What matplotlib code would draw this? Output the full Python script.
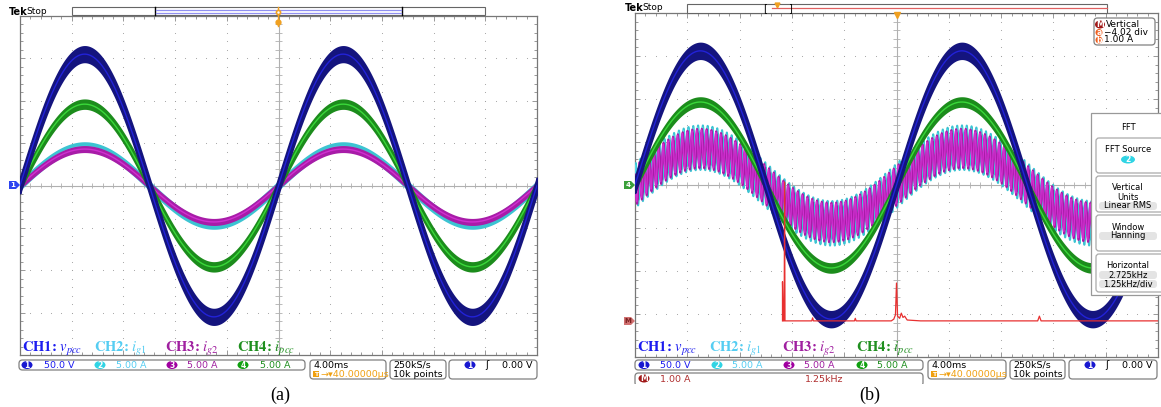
import numpy as np
import matplotlib.pyplot as plt
from matplotlib.patches import FancyBboxPatch, Ellipse, Rectangle, Polygon

plt.rcParams['mathtext.fontset'] = 'stix'
plt.rcParams['font.family'] = ['DejaVu Sans']

W, H = 1161, 407

# channels
ch_sym = ['CH1: $v_{pcc}$', 'CH2: $i_{g1}$', 'CH3: $i_{g2}$', 'CH4: $i_{pcc}$']
ch_scale = ['50.0 V', '5.00 A', '5.00 A', '5.00 A']
ch_num = ['1', '2', '3', '4']
ch_text_col = ['#1c1cf0', '#55cdf2', '#a020a0', '#1f8f1f']
ch_badge_col = ['#1818d0', '#30d4e4', '#a000a0', '#10a010']
trace_outer = ['#14147e', '#3cc4d2', '#a81ca8', '#1c8c1c']
trace_inner = ['#2222d8', '#56dbe6', '#d030d0', '#3ad83a']

period_div = 5.0          # 20 ms period at 4 ms/div
time_label = '4.00ms'
delay_label = '\u2192\u25be40.00000\u03bcs'
rate_label = ['250kS/s', '10k points']

# panel (a): peak amplitude and trace noise half width (divisions)
amp_a = [3.10, 0.92, 0.86, 1.92]
fuzz_a = [0.18, 0.09, 0.06, 0.10]

# panel (b)
amp_b = [3.12, 0.88, 0.86, 1.93]
fuzz_b = [0.18, 0.06, 0.04, 0.10]
ripple_b = [0.0, 0.46, 0.42, 0.0]
ripple_khz = 2.725

# FFT of CH2 shown as math trace M (kHz, level in divisions)
fft_center_khz = 2.725
fft_khz_per_div = 1.25
fft_khz = [0.00, 0.00, 0.02, 0.04, 0.05, 0.06, 0.10, 0.70, 0.72, 0.74, 1.72, 1.74,
           1.76, 2.60, 2.66, 2.70, 2.725, 2.75, 2.80, 2.84, 2.88, 2.92, 2.98, 3.30,
           6.10, 6.14, 6.18, 8.96]
fft_lvl = [-3.16, -2.25, -3.16, -3.16, 0.07, -3.16, -3.16, -3.16, -3.09, -3.16, -3.16, -3.10,
           -3.16, -3.16, -3.12, -3.02, -2.28, -3.05, -3.10, -2.98, -3.08, -3.05, -3.14, -3.16,
           -3.16, -3.05, -3.16, -3.16]
fft_col = '#e83030'


def px_axes(fig, x0, y0, x1, y1):
    return fig.add_axes([x0 / W, 1 - y1 / H, (x1 - x0) / W, (y1 - y0) / H])


def graticule(ax):
    ax.set_xlim(0, 10)
    ax.set_ylim(-4, 4)
    ax.set_xticks(np.arange(0, 10.01, 1))
    ax.set_xticks(np.arange(0, 10.01, 0.2), minor=True)
    ax.set_yticks(np.arange(-4, 4.01, 1))
    ax.set_yticks(np.arange(-4, 4.01, 0.2), minor=True)
    ax.tick_params(which='both', direction='in', top=True, right=True,
                   labelbottom=False, labelleft=False, length=2.5, width=0.6, color='#888888')
    ax.tick_params(which='major', length=3.5)
    for s in ax.spines.values():
        s.set_color('#777777')
        s.set_linewidth(0.9)
    gx, gy = np.meshgrid(np.arange(1, 10), np.arange(-4, 4.01, 0.2))
    ax.scatter(gx.ravel(), gy.ravel(), s=0.6, c='#a0a0a0', lw=0, zorder=1)
    gx, gy = np.meshgrid(np.arange(0, 10.01, 0.2), np.arange(-3, 4))
    ax.scatter(gx.ravel(), gy.ravel(), s=0.6, c='#a0a0a0', lw=0, zorder=1)
    ax.axhline(0, color='#b0b0b0', lw=0.8, zorder=1)
    ax.axvline(5, color='#b0b0b0', lw=0.8, zorder=1)
    ax.vlines(np.arange(0, 10.01, 0.2), -0.07, 0.07, color='#b0b0b0', lw=0.6, zorder=1)
    ax.hlines(np.arange(-4, 4.01, 0.2), 4.93, 5.07, color='#b0b0b0', lw=0.6, zorder=1)


def draw_trace(ax, x, y, fuzz, outer, inner, z):
    ax.fill_between(x, y - fuzz, y + fuzz, color=outer, lw=1.4, edgecolor=outer, zorder=z)
    ax.plot(x, y, color=inner, lw=1.0, zorder=z + 0.1)


fig = plt.figure(figsize=(W / 100, H / 100), dpi=100)
fig.patch.set_facecolor('white')

x = np.linspace(0, 10, 6000)
base = np.sin(2 * np.pi * x / period_div)
order = [1, 2, 3, 0]

# panel (a)
axa = px_axes(fig, 20, 16, 537, 355)
graticule(axa)
for k, i in enumerate(order):
    draw_trace(axa, x, amp_a[i] * base, fuzz_a[i], trace_outer[i], trace_inner[i], 3 + k)

# panel (b)
axb = px_axes(fig, 635, 13, 1158, 357)
graticule(axb)
ripple_div = (1.0 / ripple_khz) / 4.0
for k, i in enumerate(order):
    y = amp_b[i] * base + ripple_b[i] * np.sin(2 * np.pi * x / ripple_div + 1.3 * i)
    draw_trace(axb, x, y, fuzz_b[i], trace_outer[i], trace_inner[i], 3 + k)
fx = 5 + (np.array(fft_khz) - fft_center_khz) / fft_khz_per_div
axb.plot(fx, fft_lvl, color=fft_col, lw=0.9, zorder=10)

# overlay in pixel coordinates
ov = fig.add_axes([0, 0, 1, 1], zorder=20)
ov.set_xlim(0, W)
ov.set_ylim(H, 0)
ov.axis('off')


def rbox(x0, y0, x1, y1, fc='white', ec='#808080', r=3.5, lw=0.9):
    ov.add_patch(FancyBboxPatch((x0, y0), x1 - x0, y1 - y0,
                                boxstyle=f'round,pad=0,rounding_size={r}',
                                fc=fc, ec=ec, lw=lw))


def badge(xc, yc, txt, col, w=11, h=8):
    ov.add_patch(Ellipse((xc, yc), w, h, fc=col, ec='none'))
    ov.text(xc, yc + 0.3, txt, color='white', fontsize=5.5, ha='center', va='center',
            fontweight='bold')


def header(xt, yt, bx0, bx1, by0, by1):
    ov.text(xt, yt, 'Tek', fontsize=7, fontweight='bold', va='center', ha='left')
    ov.text(xt + 17, yt, 'Stop', fontsize=6.5, va='center', ha='left')
    ov.add_patch(Rectangle((bx0, by0), bx1 - bx0, by1 - by0, fc='white', ec='#666666', lw=0.8))


def ground(xr, yc, col, txt, tcol='white'):
    ov.add_patch(Polygon([(xr - 11, yc - 4), (xr - 4, yc - 4), (xr, yc), (xr - 4, yc + 4),
                          (xr - 11, yc + 4)], closed=True, fc=col, ec='none'))
    ov.text(xr - 7, yc + 0.3, txt, fontsize=5, color=tcol, ha='center', va='center',
            fontweight='bold')


def status(x0, lab_x, badge_x, scale_x, row_x1, t_x0, t_x1, r_x0, r_x1, g_x0, g_x1):
    for i in range(4):
        ov.text(lab_x[i], 352, ch_sym[i], color=ch_text_col[i], fontsize=10.5,
                family='STIXGeneral', fontweight='bold', va='baseline')
    rbox(x0, 360, row_x1, 370)
    for i in range(4):
        badge(badge_x[i], 365, ch_num[i], ch_badge_col[i])
        ov.text(scale_x[i], 365.5, ch_scale[i], color=ch_text_col[i], fontsize=6.8,
                va='center', ha='left')
    rbox(t_x0, 360, t_x1, 379)
    ov.text(t_x0 + 3, 365, time_label, fontsize=6.8, va='center')
    ov.add_patch(Rectangle((t_x0 + 3, 371), 6, 6, fc='#f0a010', ec='none'))
    ov.text(t_x0 + 6, 374.2, 'T', fontsize=4.5, color='white', ha='center', va='center',
            fontweight='bold')
    ov.text(t_x0 + 10, 374.5, delay_label, fontsize=6.8, color='#f0a010', va='center')
    rbox(r_x0, 360, r_x1, 379)
    ov.text(r_x0 + 3, 365, rate_label[0], fontsize=6.8, va='center')
    ov.text(r_x0 + 3, 374.5, rate_label[1], fontsize=6.8, va='center')
    rbox(g_x0, 360, g_x1, 379)
    badge(g_x0 + 21, 365, '1', ch_badge_col[0])
    ov.text(g_x0 + 38, 365.5, '\u0283', fontsize=7, va='center', ha='center')
    ov.text(g_x1 - 4, 365.5, '0.00 V', fontsize=6.8, va='center', ha='right')


# ---- panel (a) decorations
header(9, 12, 72, 485, 7, 15)
ov.plot([155, 155], [7, 15], color='black', lw=1)
ov.plot([402, 402], [7, 15], color='black', lw=1)
ov.plot([156, 401], [10, 10], color='#9090f0', lw=0.9)
ov.plot([156, 401], [12.5, 12.5], color='#9090f0', lw=0.9)
ov.plot([278, 278], [7, 26], color='#f0a020', lw=1.0)
ov.plot(278, 11.5, marker='o', ms=3, mfc='white', mec='#f0a020', mew=1.2)
ov.plot(278, 22, marker='o', ms=3.5, mfc='#f0a020', mec='#f0a020')
ground(20, 185, '#2c44f0', '1')
status(19, [22, 94, 165, 237], [27, 100, 172, 243], [44, 116, 187, 260], 305,
       310, 386, 390, 446, 449, 537)
ov.text(280, 395, '(a)', fontsize=13, family='Liberation Serif', ha='center', va='center')

# ---- panel (b) decorations
header(625, 8, 687, 1107, 4, 13)
ov.plot([772, 1107], [8, 8], color='#e06060', lw=0.9)
ov.text(765, 8.5, '[', fontsize=7, ha='center', va='center')
ov.text(790, 8.5, ']', fontsize=7, ha='center', va='center')
ov.plot(777, 4.5, marker='v', ms=3.5, color='#f0a020')
ov.plot(897, 15, marker='v', ms=5, color='#f0a020')
ground(635, 185, '#3aa03a', '4')
ground(635, 321, '#d07070', 'M', '#7a2020')
status(635, [637, 709, 782, 856], [644, 717, 789, 862], [660, 732, 804, 877], 923,
       928, 1006, 1010, 1065, 1069, 1157)
rbox(635, 373, 923, 386)
badge(644, 378.5, 'M', '#a01818')
ov.text(660, 379, '1.00 A', fontsize=6.8, color='#b03030', va='center')
ov.text(805, 379, '1.25kHz', fontsize=6.8, color='#b03030', va='center')
ov.add_patch(Rectangle((630, 384), 300, 8, fc='white', ec='none'))
ov.text(870, 395, '(b)', fontsize=13, family='Liberation Serif', ha='center', va='center')

# math vertical readout
rbox(1094, 18, 1155, 45)
badge(1100, 24.5, 'M', '#a01818', w=10, h=8)
ov.text(1106, 24.5, 'Vertical', fontsize=6.5, va='center')
badge(1099, 32.5, 'a', '#f06020', w=7, h=7)
ov.text(1104, 32.5, '\u22124.02 div', fontsize=6.5, va='center')
badge(1099, 40, 'b', '#f06020', w=7, h=7)
ov.text(1104, 40, '1.00 A', fontsize=6.5, va='center')

# FFT side menu
ov.add_patch(Rectangle((1091, 113), 75, 182, fc='white', ec='#999999', lw=0.9))
ov.text(1128, 127, 'FFT', fontsize=6, ha='center', va='center')
menu = [(138, 173, ['FFT Source'], None),
        (176, 212, ['Vertical', 'Units'], 'Linear RMS'),
        (215, 251, ['Window'], 'Hanning'),
        (254, 292, ['Horizontal'], '2.725kHz\n1.25kHz/div')]
for y0, y1, lines, val in menu:
    rbox(1096, y0, 1170, y1, ec='#aaaaaa', r=3)
    yy = y0 + 12
    for ln in lines:
        ov.text(1128, yy, ln, fontsize=6, ha='center', va='center')
        yy += 9
    if val is not None:
        for v in val.split('\n'):
            ov.add_patch(FancyBboxPatch((1099, yy - 4), 58, 8,
                                        boxstyle='round,pad=0,rounding_size=3',
                                        fc='#e4e4e4', ec='none'))
            ov.text(1128, yy, v, fontsize=6, ha='center', va='center')
            yy += 9
badge(1128, 159.5, '2', ch_badge_col[1], w=14, h=8)

fig.savefig('out.png', dpi=100, facecolor='white')
